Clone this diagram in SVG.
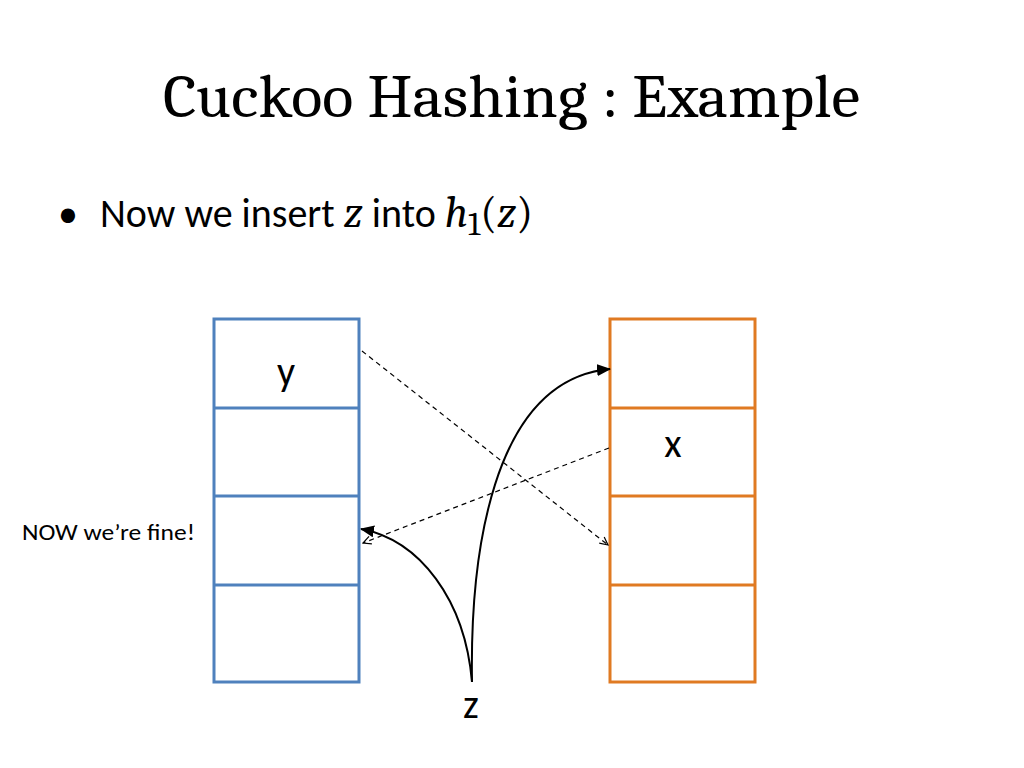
<svg xmlns="http://www.w3.org/2000/svg" width="1024" height="768" viewBox="0 0 1024 768">
<defs>
<style>
.t1 rect,.t1 line{stroke:#4F81BD;stroke-width:3;fill:none}
.t2 rect,.t2 line{stroke:#E07A22;stroke-width:3;fill:none}
.lbl{font-family:Calibri,Carlito,"Liberation Sans",sans-serif;fill:#000}
.m{font-family:Cambria,Caladea,'Liberation Serif',serif}
.dash{stroke:#000;stroke-width:1.2;stroke-dasharray:5,4;fill:none}
.solid{stroke:#000;stroke-width:2;fill:none}
</style>
<marker id="open" markerWidth="10" markerHeight="10" refX="9" refY="5" orient="auto" markerUnits="userSpaceOnUse"><path d="M1,1 L9,5 L1,9" fill="none" stroke="#000" stroke-width="1.2"/></marker>
<marker id="tri" markerWidth="14" markerHeight="12" refX="13" refY="6" orient="auto" markerUnits="userSpaceOnUse"><path d="M0,0 L14,6 L0,12 Z" fill="#000"/></marker>
</defs>
<rect width="1024" height="768" fill="#fff"/>
<text x="163" y="117" font-family="Cambria,Caladea,'Liberation Serif',serif" font-size="60" textLength="697" lengthAdjust="spacingAndGlyphs">Cuckoo Hashing : Example</text>
<text x="58" y="227" class="lbl" font-size="40">•</text>
<text x="100" y="227" class="lbl" font-size="40">Now we insert <tspan class="m" font-style="italic" font-size="44">z</tspan> into <tspan class="m" font-style="italic" font-size="44">h</tspan><tspan class="m" font-size="34" dy="8">1</tspan><tspan class="m" font-size="44" dy="-8">(</tspan><tspan class="m" font-style="italic" font-size="44">z</tspan><tspan class="m" font-size="44">)</tspan></text>
<g id="table1" class="t1">
<rect x="214" y="319" width="145" height="363"/>
<line x1="214" y1="408" x2="359" y2="408"/>
<line x1="214" y1="496" x2="359" y2="496"/>
<line x1="214" y1="585" x2="359" y2="585"/>
<text x="286" y="385" class="lbl" font-size="40" text-anchor="middle" style="stroke:none">y</text>
</g>
<g id="table2" class="t2">
<rect x="610" y="319" width="145" height="363"/>
<line x1="610" y1="408" x2="755" y2="408"/>
<line x1="610" y1="496" x2="755" y2="496"/>
<line x1="610" y1="585" x2="755" y2="585"/>
<text x="673" y="457" class="lbl" font-size="40" text-anchor="middle" style="stroke:none">x</text>
</g>
<text x="22" y="540" class="lbl" font-size="22" textLength="173" lengthAdjust="spacingAndGlyphs">NOW we’re fine!</text>
<text x="471" y="718" class="lbl" font-size="40" text-anchor="middle">z</text>
<g id="connectors">
<line class="dash" x1="362" y1="351" x2="608" y2="545" marker-end="url(#open)"/>
<line class="dash" x1="609" y1="448" x2="363" y2="543" marker-end="url(#open)"/>
<path class="solid" d="M472,682 C465,600 420,540 361,529" marker-end="url(#tri)"/>
<path class="solid" d="M472,682 C470,560 490,380 610,369" marker-end="url(#tri)"/>
</g>
</svg>
